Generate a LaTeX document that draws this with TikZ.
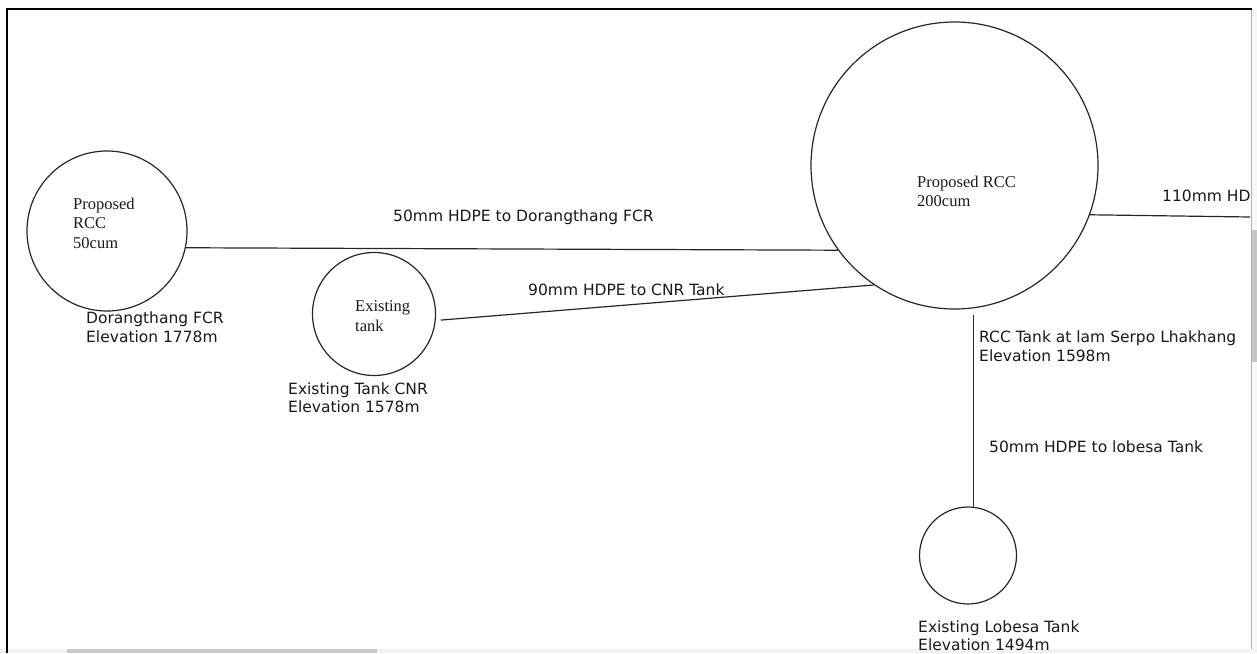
\documentclass[tikz,border=0pt]{standalone}
\usepackage{fontspec}
\setmainfont{Liberation Serif}
\setsansfont{DejaVu Sans}
\usetikzlibrary{positioning, calc}

\begin{document}
\begin{tikzpicture}[x=1pt, y=-1pt,
    every node/.style={inner sep=0pt, text=black!90},
    tank/.style={draw=black!85, circle, line width=1.2pt},
    pipe/.style={draw=black!85, line width=1.2pt},
    intank/.style={font=\fontsize{16.5}{19.5}\selectfont, align=left, anchor=west},
    note/.style={font=\sffamily\fontsize{15.5}{18.5}\selectfont, align=left, anchor=west}]
    \useasboundingbox (0,0) rectangle (1257,653);
    % window frame and scroll bars
    \fill[black!5] (0,649) rectangle (1257,653);
    \fill[black!22] (67,649) rectangle (377,653);
    \fill[black!3] (1252,9) rectangle (1257,649);
    \fill[black!22] (1252,230) rectangle (1257,362);
    \draw[black!30, line width=0.8pt] (1251,9) -- (1251,649);
    \draw[line width=2pt] (7,653) -- (7,9) -- (1252,9);
    % tanks
    \node[tank, minimum size=160pt] (fcr) at (107,231) {};
    \node[tank, minimum size=123pt] (cnr) at (374,314) {};
    \node[tank, minimum size=287pt] (main) at (954.5,165.5) {};
    \node[tank, minimum size=97pt] (lobesa) at (968,555.5) {};
    % texts in the tanks
    \node[intank] (fcrin) at (73,223) {Proposed\\RCC\\50cum};
    \node[intank] (cnrin) at (355,316) {Existing\\tank};
    \node[intank] (mainin) at (917,191.5) {Proposed RCC\\200cum};
    % tank names
    \node[note] (fcrname) at (86,327) {Dorangthang FCR\\Elevation 1778m};
    \node[note] (cnrname) at (288,397.5) {Existing Tank CNR\\Elevation 1578m};
    \node[note] (mainname) at (979,346) {RCC Tank at lam Serpo Lhakhang\\Elevation 1598m};
    \node[note] (lobesaname) at (918,635.5) {Existing Lobesa Tank\\Elevation 1494m};
    % pipes
    \coordinate (outlet) at (1250,217);
    \draw[pipe] (fcr.-12) -- (main.216.4);
    \draw[pipe, shorten <=5pt] (cnr.-6) -- (main.236.8);
    \draw[pipe] (main.-20.8) -- (outlet);
    \draw[pipe, shorten >=5pt] (lobesa.84) -- (lobesa.84 |- main.south);
    % pipe labels
    \node[note] (pipefcr) at (393,217) {50mm HDPE to Dorangthang FCR};
    \node[note] (pipecnr) at (528,290) {90mm HDPE to CNR Tank};
    \node[note] (pipeout) at (1162,196) {110mm HD};
    \node[note] (pipelobesa) at (989,447) {50mm HDPE to lobesa Tank};
\end{tikzpicture}
\end{document}
